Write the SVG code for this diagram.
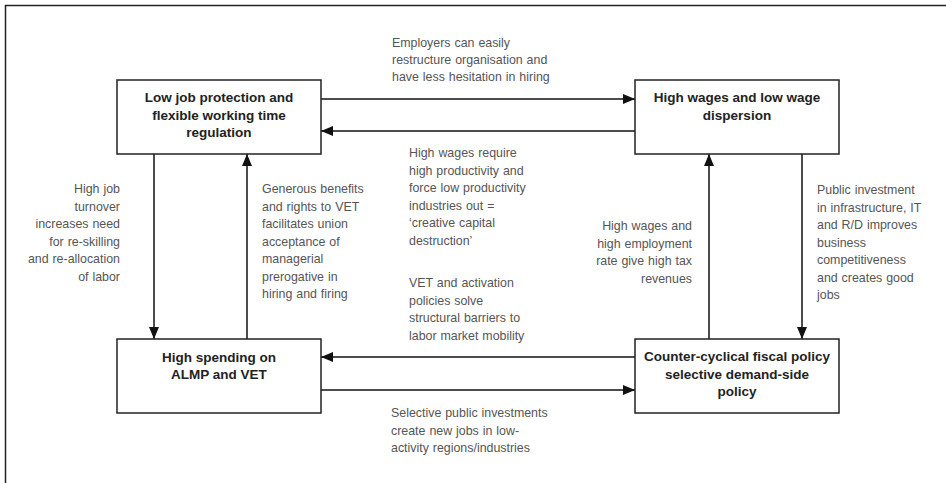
<svg xmlns="http://www.w3.org/2000/svg" width="946" height="483" viewBox="0 0 946 483">
<defs>
<marker id="ah" viewBox="0 0 12 10" refX="12" refY="5" markerWidth="12" markerHeight="10" markerUnits="userSpaceOnUse" orient="auto">
<path d="M0,0 L12,5 L0,10 Z" fill="#111"/>
</marker>
<style>
.box{fill:#fff;stroke:#222;stroke-width:1.5}
.nt{font-family:"Liberation Sans",Arial,sans-serif;font-weight:bold;font-size:13.5px;fill:#222;text-anchor:middle}
.lb{font-family:"Liberation Sans",Arial,sans-serif;font-size:12.4px;fill:#555;word-spacing:0.5px}
.r{text-anchor:end}
.con{stroke:#111;stroke-width:1.5;fill:none}
</style>
</defs>
<rect width="946" height="483" fill="#fff"/>
<path d="M5.5,483 V5.5 H946" fill="none" stroke="#222" stroke-width="1.5"/>
<g id="connectors">
<line class="con" x1="321" y1="99" x2="635" y2="99" marker-end="url(#ah)"/>
<line class="con" x1="635" y1="131" x2="321" y2="131" marker-end="url(#ah)"/>
<line class="con" x1="635" y1="357" x2="321" y2="357" marker-end="url(#ah)"/>
<line class="con" x1="321" y1="390" x2="635" y2="390" marker-end="url(#ah)"/>
<line class="con" x1="154" y1="154" x2="154" y2="339" marker-end="url(#ah)"/>
<line class="con" x1="247" y1="339" x2="247" y2="154" marker-end="url(#ah)"/>
<line class="con" x1="709" y1="339" x2="709" y2="154" marker-end="url(#ah)"/>
<line class="con" x1="802" y1="154" x2="802" y2="339" marker-end="url(#ah)"/>
</g>
<g id="labels">
<text class="lb" x="392"><tspan x="392" y="47">Employers can easily</tspan><tspan x="392" y="64">restructure organisation and</tspan><tspan x="392" y="81">have less hesitation in hiring</tspan></text>
<text class="lb" x="409"><tspan x="409" y="157">High wages require</tspan><tspan x="409" y="174.5">high productivity and</tspan><tspan x="409" y="192">force low productivity</tspan><tspan x="409" y="209.5">industries out =</tspan><tspan x="409" y="227">‘creative capital</tspan><tspan x="409" y="244.5">destruction’</tspan></text>
<text class="lb" x="409"><tspan x="409" y="287">VET and activation</tspan><tspan x="409" y="304.5">policies solve</tspan><tspan x="409" y="322">structural barriers to</tspan><tspan x="409" y="339.5">labor market mobility</tspan></text>
<text class="lb" x="391"><tspan x="391" y="417">Selective public investments</tspan><tspan x="391" y="434.5">create new jobs in low-</tspan><tspan x="391" y="452">activity regions/industries</tspan></text>
<text class="lb r"><tspan x="120" y="193">High job</tspan><tspan x="120" y="210.5">turnover</tspan><tspan x="120" y="228">increases need</tspan><tspan x="120" y="245.5">for re-skilling</tspan><tspan x="120" y="263">and re-allocation</tspan><tspan x="120" y="280.5">of labor</tspan></text>
<text class="lb"><tspan x="262" y="193">Generous benefits</tspan><tspan x="262" y="210.5">and rights to VET</tspan><tspan x="262" y="228">facilitates union</tspan><tspan x="262" y="245.5">acceptance of</tspan><tspan x="262" y="263">managerial</tspan><tspan x="262" y="280.5">prerogative in</tspan><tspan x="262" y="298">hiring and firing</tspan></text>
<text class="lb r"><tspan x="692" y="230">High wages and</tspan><tspan x="692" y="247.5">high employment</tspan><tspan x="692" y="265">rate give high tax</tspan><tspan x="692" y="282.5">revenues</tspan></text>
<text class="lb"><tspan x="817" y="194">Public investment</tspan><tspan x="817" y="211.5">in infrastructure,  IT</tspan><tspan x="817" y="229">and R/D improves</tspan><tspan x="817" y="246.5">business</tspan><tspan x="817" y="264">competitiveness</tspan><tspan x="817" y="281.5">and creates good</tspan><tspan x="817" y="299">jobs</tspan></text>
</g>
<g id="n1">
<rect class="box" x="117" y="80" width="204" height="74"/>
<text class="nt"><tspan x="219" y="102">Low job protection and</tspan><tspan x="219" y="119.5">flexible working time</tspan><tspan x="219" y="137">regulation</tspan></text>
</g>
<g id="n2">
<rect class="box" x="635" y="80" width="204" height="74"/>
<text class="nt"><tspan x="737" y="102">High wages and low wage</tspan><tspan x="737" y="119.5">dispersion</tspan></text>
</g>
<g id="n3">
<rect class="box" x="117" y="339" width="204" height="74"/>
<text class="nt"><tspan x="219" y="362">High spending on</tspan><tspan x="219" y="379">ALMP and VET</tspan></text>
</g>
<g id="n4">
<rect class="box" x="635" y="339" width="204" height="74"/>
<text class="nt"><tspan x="737" y="361">Counter-cyclical fiscal policy</tspan><tspan x="737" y="378.5">selective demand-side</tspan><tspan x="737" y="396">policy</tspan></text>
</g>
</svg>
